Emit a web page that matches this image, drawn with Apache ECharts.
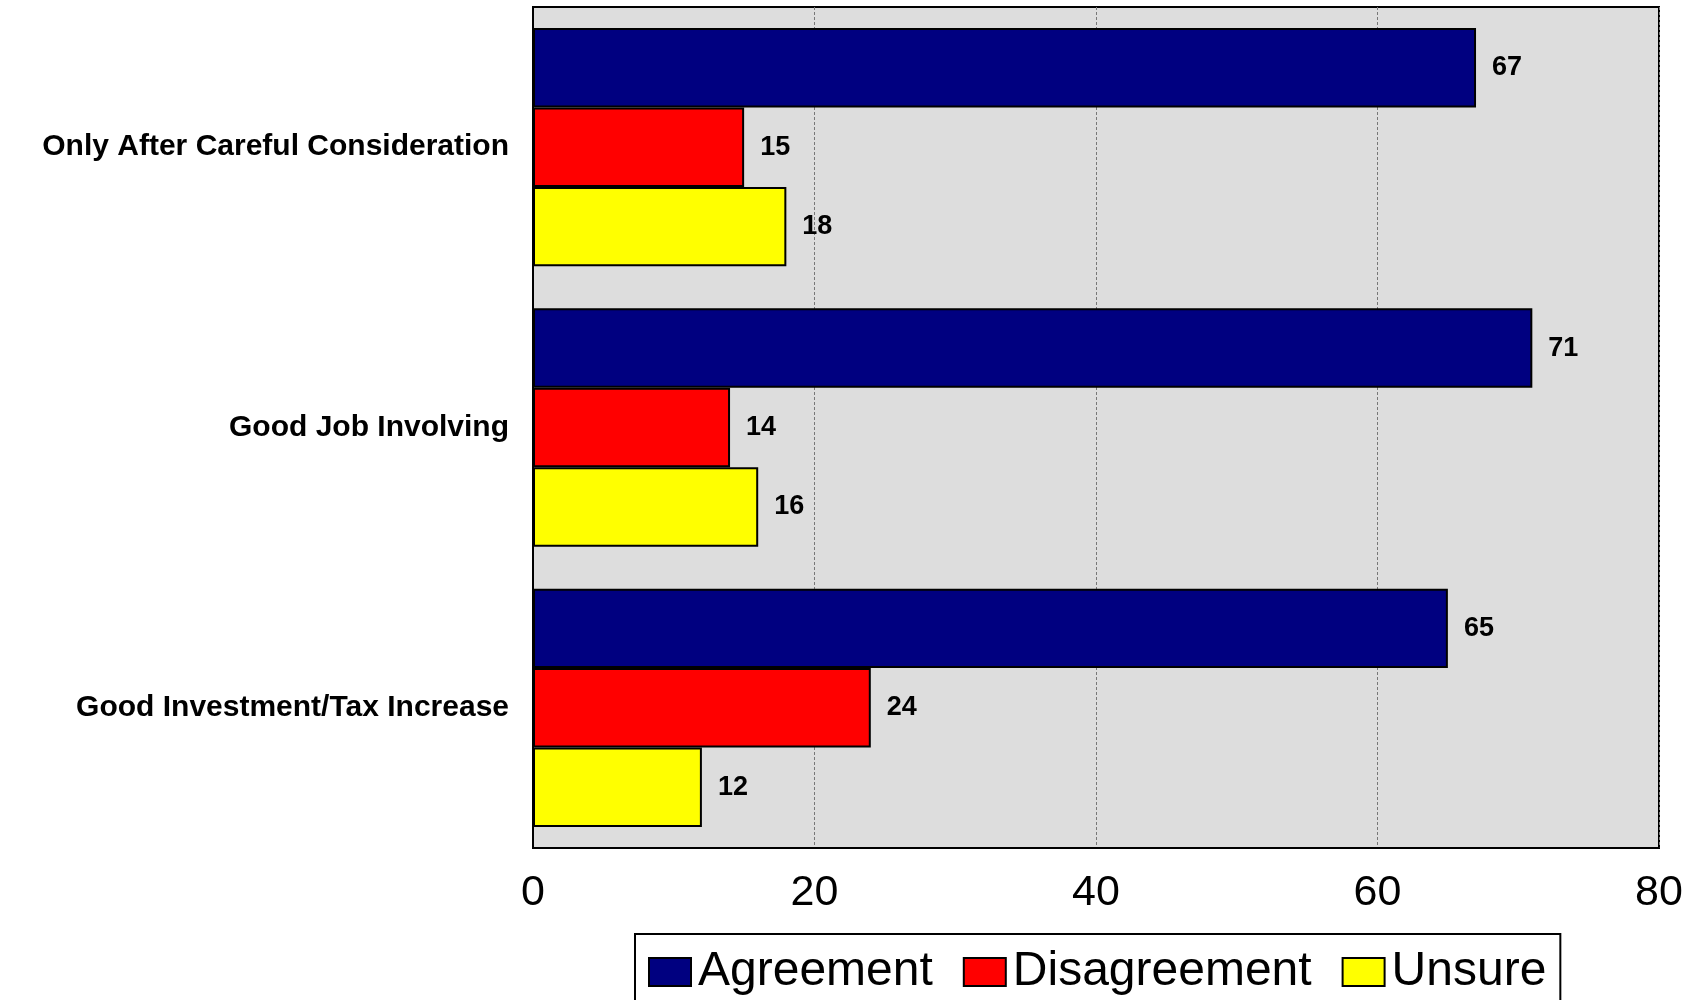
<!DOCTYPE html>
<html>
<head>
<meta charset="utf-8">
<script src="https://cdn.jsdelivr.net/npm/echarts@6/dist/echarts.min.js"></script>
<style>
html,body{margin:0;padding:0;background:#fff;}
#chart{width:1702px;height:1000px;}
</style>
</head>
<body>
<div id="chart"></div>
<script>
const categories = ["Only After Careful Consideration", "Good Job Involving", "Good Investment/Tax Increase"];
const agreement = [67, 71, 65];
const disagreement = [15, 14, 24];
const unsure = [18, 16, 12];
const seriesNames = ["Agreement", "Disagreement", "Unsure"];
const xTicks = { min: 0, max: 80, interval: 20 };

const FONT = "'Liberation Sans', Arial, sans-serif";
const chart = echarts.init(document.getElementById('chart'));

function barSeries(name, data, color) {
  return {
    name: name,
    type: 'bar',
    data: data,
    barGap: '0%',
    barCategoryGap: '15%',
    itemStyle: { color: color, borderColor: '#000', borderWidth: 2 },
    label: {
      show: true, position: 'right', distance: 16,
      fontFamily: FONT, fontWeight: 'bold', fontSize: 27, color: '#000'
    }
  };
}

chart.setOption({
  animation: false,
  backgroundColor: '#fff',
  grid: {
    left: 533, right: 43, top: 7, bottom: 152,
    show: true, backgroundColor: '#dddddd', borderColor: '#000', borderWidth: 2
  },
  xAxis: {
    type: 'value', min: xTicks.min, max: xTicks.max, interval: xTicks.interval,
    axisLine: { show: true, lineStyle: { color: '#000', width: 2 } },
    axisTick: { show: false },
    axisLabel: { fontFamily: FONT, fontSize: 43, color: '#000', margin: 24 },
    splitLine: { show: true, lineStyle: { color: '#777', type: [3, 2], width: 1 } }
  },
  yAxis: {
    type: 'category', data: categories, inverse: true,
    axisLine: { show: true, lineStyle: { color: '#000', width: 2 } },
    axisTick: { show: false },
    axisLabel: { fontFamily: FONT, fontWeight: 'bold', fontSize: 30, color: '#000', margin: 24 }
  },
  legend: {
    data: seriesNames,
    orient: 'horizontal',
    left: 635, top: 934,
    padding: [14, 14, 40, 13],
    borderColor: '#000', borderWidth: 2,
    backgroundColor: '#fff',
    itemWidth: 42, itemHeight: 28, itemGap: 30,
    icon: 'rect',
    itemStyle: { borderColor: '#000', borderWidth: 2 },
    textStyle: { fontFamily: FONT, fontSize: 48, color: '#000', padding: [0, 0, 0, 2] }
  },
  series: [
    barSeries(seriesNames[0], agreement, '#000080'),
    barSeries(seriesNames[1], disagreement, '#ff0000'),
    barSeries(seriesNames[2], unsure, '#ffff00')
  ]
});
</script>
</body>
</html>
